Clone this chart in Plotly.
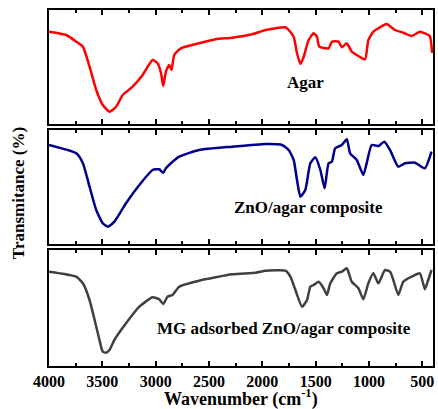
import plotly.graph_objects as go

# Agar (red)
agar_w = [4000, 3838, 3744, 3682, 3620, 3557, 3496, 3433, 3371, 3309, 3216, 3122, 3029, 2982, 2950, 2929,
          2904, 2873, 2851, 2826, 2764, 2593, 2437, 2282, 2095, 1970, 1783, 1753, 1706, 1675, 1643, 1612,
          1566, 1519, 1488, 1466, 1379, 1348, 1286, 1255, 1208, 1162, 1099, 1037, 1006, 959, 912, 835,
          756, 679, 601, 523, 476, 430, 408]
agar_t = [92.3, 89, 82.3, 77.3, 57.3, 34, 19, 12.3, 17.3, 29, 37.3, 49, 64, 60.7, 51, 38,
          52.3, 59, 54, 69, 75.7, 80.7, 84.7, 86.3, 89.7, 94, 96.7, 94, 87.3, 70.7, 60, 67.3,
          84, 90.7, 87.3, 77.3, 75.7, 82.3, 82.3, 76.7, 80.7, 72.3, 68, 64.7, 84, 92.3, 95.7, 100,
          94, 91.3, 88, 92.3, 90.7, 88, 71]

# ZnO/agar composite (navy)
zno_w = [4000, 3744, 3682, 3620, 3557, 3496, 3449, 3387, 3278, 3153, 3029, 2967, 2929, 2904, 2857, 2780,
         2593, 2282, 1970, 1815, 1753, 1706, 1675, 1643, 1597, 1550, 1503, 1456, 1416, 1379, 1348, 1317,
         1255, 1208, 1177, 1115, 1053, 1022, 975, 912, 856, 803, 725, 663, 569, 476, 414]
zno_t = [99, 90.7, 80.7, 57.3, 34, 20.7, 17.3, 22.3, 40.7, 59, 74, 74.7, 71.3, 75.7, 80.7, 87.3,
         94, 97.3, 100, 99, 94, 84, 64, 47.3, 54, 80.7, 86.7, 74, 55.7, 80.7, 82.3, 95.7,
         99, 104.7, 90.7, 84, 69, 80.7, 99, 98, 102.3, 94, 77.3, 80.7, 81.3, 75.7, 92.3]

# MG adsorbed ZnO/agar composite (dark grey)
mg_w = [4000, 3744, 3682, 3620, 3557, 3527, 3496, 3465, 3433, 3387, 3278, 3153, 3029, 2967, 2929, 2889,
        2842, 2780, 2593, 2282, 2064, 1970, 1783, 1737, 1690, 1628, 1581, 1550, 1519, 1472, 1425, 1394,
        1363, 1301, 1255, 1208, 1162, 1099, 1053, 1006, 959, 912, 850, 803, 772, 725, 679, 601,
        523, 476, 445, 414]
mg_t = [94.3, 89.3, 82.7, 66, 39.3, 26, 14.3, 13.3, 16, 26, 42.7, 59.3, 68.7, 66.7, 62, 69.3,
        71, 79.3, 85.3, 91.7, 93.3, 95.3, 95.3, 89.3, 76, 59.3, 66, 79.3, 81, 84.3, 77.7, 71,
        82.7, 92.7, 94.3, 97.7, 84.3, 77.7, 66.7, 82.7, 92.7, 82.7, 96, 94.3, 86, 71, 84.3, 89.3,
        92.7, 76.7, 86, 96]

x_ticks = [4000, 3500, 3000, 2500, 2000, 1500, 1000, 500]
labels = ["Agar", "ZnO/agar composite", "MG adsorbed ZnO/agar composite"]

FONT = "Liberation Serif"

fig = go.Figure()
fig.add_trace(go.Scatter(x=agar_w, y=agar_t, mode="lines", line=dict(color="#ff0000", width=2.5, shape="spline", smoothing=0.5), xaxis="x", yaxis="y"))
fig.add_trace(go.Scatter(x=zno_w, y=zno_t, mode="lines", line=dict(color="#00008b", width=2.5, shape="spline", smoothing=0.5), xaxis="x2", yaxis="y2"))
fig.add_trace(go.Scatter(x=mg_w, y=mg_t, mode="lines", line=dict(color="#404040", width=2.5, shape="spline", smoothing=0.5), xaxis="x3", yaxis="y3"))

H = 356.0
W = 386.0
def dom(top, bot):
    return [(366 - bot) / H, (366 - top) / H]

xcommon = dict(range=[4000, 400], showline=True, linecolor="black", linewidth=2, mirror="allticks",
               ticks="inside", ticklen=5, tickcolor="black", tickwidth=1.5,
               tickmode="array", tickvals=x_ticks, ticktext=["<b>%d</b>" % v for v in x_ticks],
               minor=dict(dtick=250, ticks="inside", ticklen=3, tickcolor="black"),
               tickfont=dict(family=FONT, size=16, color="black"),
               showgrid=False, zeroline=False)
ycommon = dict(showline=True, linecolor="black", linewidth=2, mirror=True, ticks="",
               showticklabels=False, showgrid=False, zeroline=False)

fig.update_layout(
    width=438, height=409,
    margin=dict(l=49, r=3, t=10, b=43),
    plot_bgcolor="white", paper_bgcolor="white",
    showlegend=False,
    font=dict(family=FONT, color="black"),
    xaxis=dict(**xcommon, anchor="y", showticklabels=False),
    xaxis2=dict(**xcommon, anchor="y2", matches="x", showticklabels=False),
    xaxis3=dict(**xcommon, anchor="y3", matches="x", showticklabels=True),
    yaxis=dict(**ycommon, domain=dom(10, 124), range=[0, 114]),
    yaxis2=dict(**ycommon, domain=dom(130, 244), range=[0, 114]),
    yaxis3=dict(**ycommon, domain=dom(250, 366), range=[0, 116]),
)

fig.add_annotation(x=1594, y=42, xref="x", yref="y", text="<b>" + labels[0] + "</b>", showarrow=False,
                   font=dict(family=FONT, size=17, color="black"))
fig.add_annotation(x=1566, y=37, xref="x2", yref="y2", text="<b>" + labels[1] + "</b>", showarrow=False,
                   font=dict(family=FONT, size=17, color="black"))
fig.add_annotation(x=1800, y=38, xref="x3", yref="y3", text="<b>" + labels[2] + "</b>", showarrow=False,
                   font=dict(family=FONT, size=17, color="black"))

fig.add_annotation(x=(18 - 49) / W, y=(366 - 193) / H, xref="paper", yref="paper",
                   xanchor="center", yanchor="middle",
                   text="<b>Transmitance (%)</b>", textangle=-90, showarrow=False,
                   font=dict(family=FONT, size=17, color="black"))
fig.add_annotation(x=(242 - 49) / W, y=(366 - 398) / H, xref="paper", yref="paper",
                   xanchor="center", yanchor="middle",
                   text="<b>Wavenumber (cm<sup>-1</sup>)</b>", showarrow=False,
                   font=dict(family=FONT, size=18, color="black"))

fig.write_html("out.html")
